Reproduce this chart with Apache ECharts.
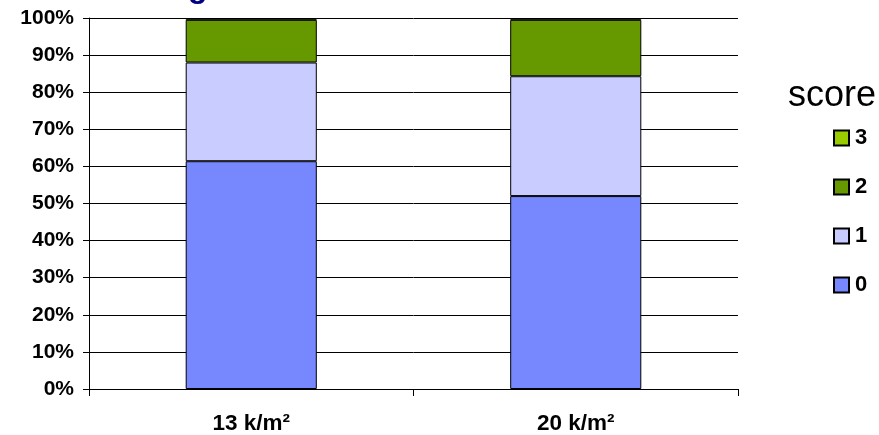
<!DOCTYPE html>
<html>
<head>
<meta charset="utf-8">
<script src="https://cdn.jsdelivr.net/npm/echarts@6/dist/echarts.min.js"></script>
<style>html,body{margin:0;padding:0;background:#fff;}#c{width:879px;height:435px;}</style>
</head>
<body>
<div id="c"></div>
<script>
var categories = ['13 k/m²', '20 k/m²'];
var score0 = [61.4, 52.0];
var score1 = [26.6, 32.3];
var score2 = [11.5, 15.2];
var score3 = [0.5, 0.5];
var seriesNames = ['0', '1', '2', '3'];
var seriesColors = ['#7788ff', '#c8ccff', '#669900', '#99cc00'];
var legendOrder = ['3', '2', '1', '0'];

var chart = echarts.init(document.getElementById('c'));
var values = [score0, score1, score2, score3];
var series = values.map(function (v, i) {
  return {
    name: seriesNames[i],
    type: 'bar',
    stack: 'total',
    data: v,
    barWidth: '40.4%',
    itemStyle: { color: seriesColors[i], borderColor: '#000', borderWidth: 1 },
    emphasis: { disabled: true },
    animation: false
  };
});

chart.setOption({
  animation: false,
  title: {
    text: 'score',
    left: 783,
    top: 73,
    textStyle: { fontFamily: 'Liberation Sans', fontSize: 36, fontWeight: 'normal', color: '#000' }
  },
  graphic: [{
    type: 'text',
    left: 188,
    top: -28,
    style: { text: 'g', font: 'bold 32px "Liberation Sans"', fill: '#000080' }
  }],
  legend: {
    data: legendOrder,
    orient: 'vertical',
    left: 828,
    top: 122,
    itemWidth: 15,
    itemHeight: 15,
    itemGap: 27,
    icon: 'rect',
    textStyle: { fontFamily: 'Liberation Sans', fontSize: 22, fontWeight: 'bold', color: '#000', lineHeight: 22, padding: [0, 0, 0, 1] },
    selectedMode: false
  },
  grid: { left: 89, right: 141, top: 18, bottom: 42, containLabel: false },
  xAxis: {
    type: 'category',
    data: categories,
    axisLine: { lineStyle: { color: '#000', width: 1 } },
    axisTick: { show: true, length: 7, lineStyle: { color: '#000' } },
    axisLabel: { fontFamily: 'Liberation Sans', fontSize: 22.5, fontWeight: 'bold', color: '#000', margin: 23 }
  },
  yAxis: {
    type: 'value',
    min: 0,
    max: 100,
    interval: 10,
    axisLine: { show: true, lineStyle: { color: '#000', width: 1 } },
    axisTick: { show: true, length: 6, lineStyle: { color: '#000' } },
    splitLine: { show: true, lineStyle: { color: '#000', width: 1 } },
    axisLabel: { fontFamily: 'Liberation Sans', fontSize: 21, fontWeight: 'bold', color: '#000', margin: 15, formatter: '{value}%' }
  },
  series: series
});
</script>
</body>
</html>
